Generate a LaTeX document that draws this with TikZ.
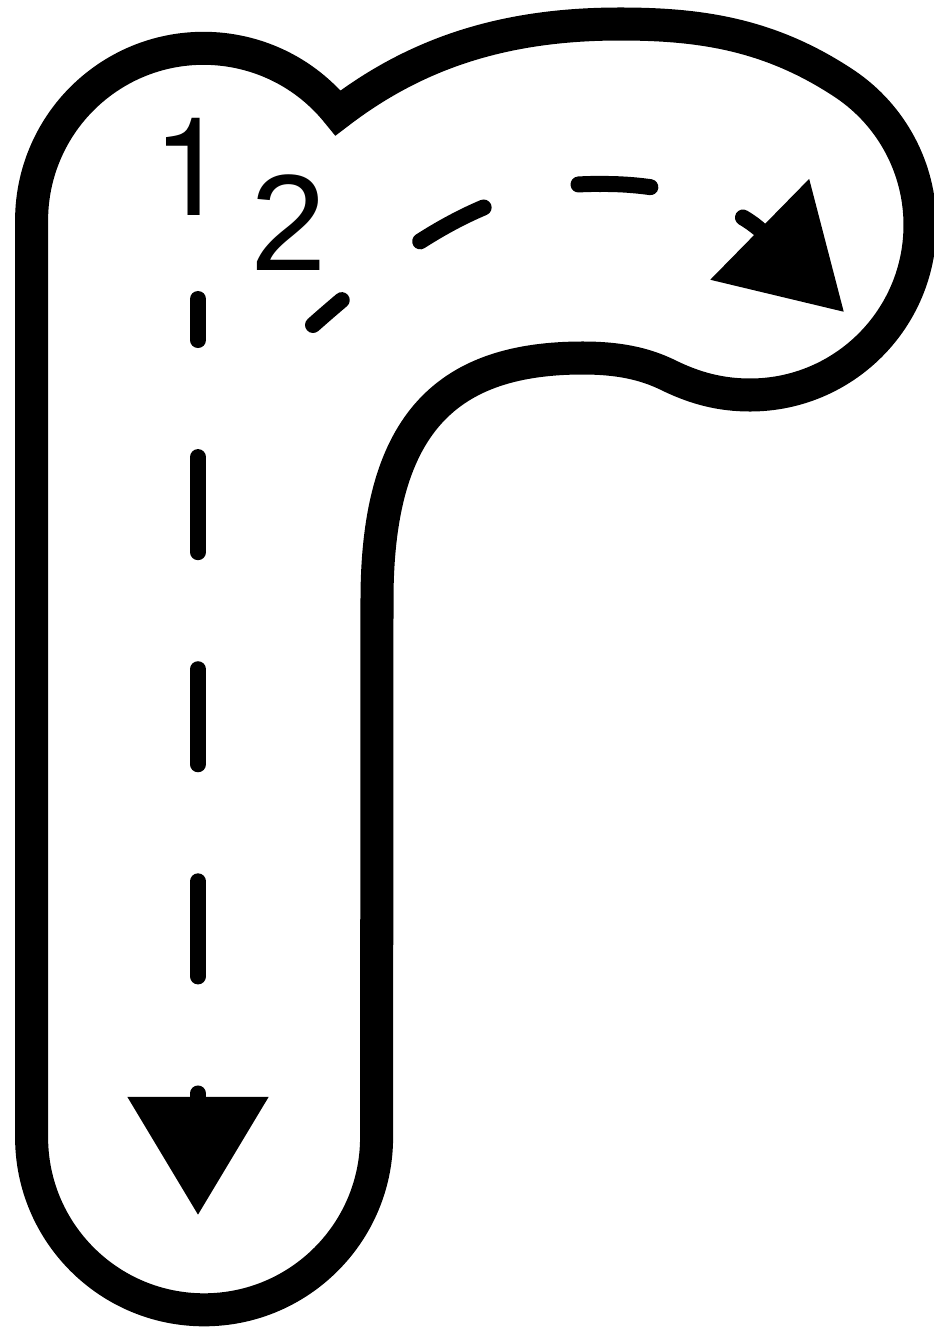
\documentclass[tikz,border=0pt]{standalone}
\usepackage{fontspec}
\setmainfont{Liberation Sans}
\newfontfamily\herosfont{TeX Gyre Heros}
\usetikzlibrary{arrows.meta}

\begin{document}
\begin{tikzpicture}[
    x=0.01cm, y=-0.01cm,
    outline/.style={draw=black, line width=0.33cm, line join=miter},
    trace/.style={line width=0.16cm, line cap=round, -{Triangle[length=1.18cm, width=1.37cm]}},
    numlbl/.style={font=\fontsize{39}{39}\selectfont, inner sep=0pt, anchor=base},
]
    \useasboundingbox (0,0) rectangle (934,1327);

    % Letter outline
    \draw[outline] (338,113) arc[start angle=-38.6, end angle=-180, radius=172]
        -- ++(0,917) arc[start angle=180, end angle=0, radius=172.5]
        -- (377,600)
        .. controls (377,420) and (450,358) .. (583,358)
        .. controls (625,358) and (650,366) .. (670,376)
        .. controls (695,388) and (720,395) .. (750,395)
        arc[start angle=90, end angle=-56, radius=170]
        .. controls (770,34) and (700,24) .. (620,24)
        .. controls (510,24) and (420,50) .. cycle;

    % Stroke order numbers
    \node[numlbl] (one) at (191,215) {\herosfont 1};
    \node[numlbl] (two) at (289,270) {2};

    % Stroke 1
    \coordinate (s1) at (198,299);
    \coordinate (e1) at (198,1215);
    \draw[trace, dash pattern=on 0.95cm off 1.17cm, dash phase=0.54cm] (s1) -- (e1);

    % Stroke 2
    \coordinate (s2) at (313,325);
    \coordinate (m2) at (600,184);
    \coordinate (e2) at (844,312);
    \draw[trace, dash pattern=on 0.72cm off 0.98cm, dash phase=0.34cm] (s2)
        .. controls (400,248) and (490,182) .. (m2)
        .. controls (680,183) and (740,210) .. (e2);

\end{tikzpicture}
\end{document}
